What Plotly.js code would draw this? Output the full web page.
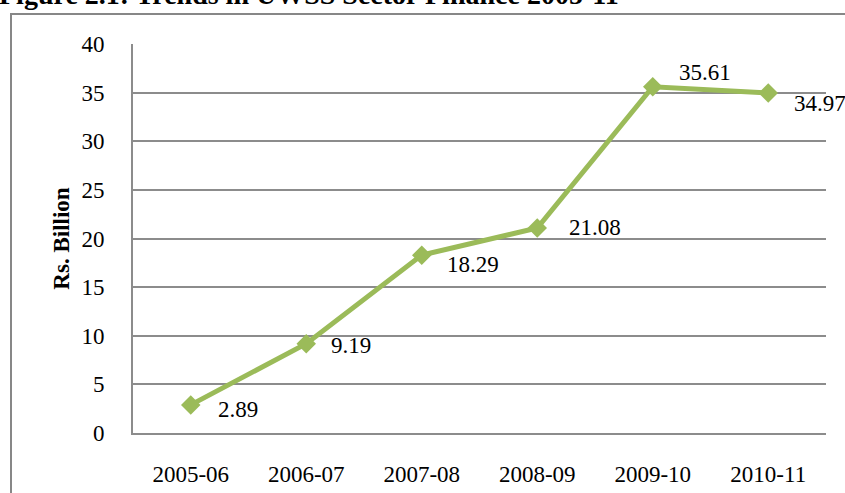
<!DOCTYPE html>
<html>
<head>
<meta charset="utf-8">
<script src="https://cdn.plot.ly/plotly-3.0.1.min.js"></script>
<style>html,body{margin:0;padding:0;background:#fff;}#chart{width:845px;height:493px;}</style>
</head>
<body>
<div id="chart"></div>
<script>
var categories = ["2005-06", "2006-07", "2007-08", "2008-09", "2009-10", "2010-11"];
var values = [2.89, 9.19, 18.29, 21.08, 35.61, 34.97];
var labels = ["2.89", "9.19", "18.29", "21.08", "35.61", "34.97"];
var yTicks = [0, 5, 10, 15, 20, 25, 30, 35, 40];

// label offsets (pixels) relative to each point
var labelDx = [25, 23, 23, 30, 24, 24];
var labelDy = [-5, -2, -9, 1, 14, -11];

var W = 845, H = 493;
var mL = 133, mR = 19, mT = 44, mB = 60;
var pw = W - mL - mR, ph = H - mT - mB;
function px2x(p) { return (p - mL) / pw; }
function py2y(p) { return 1 + (mT - p) / ph; }

var serif = "Liberation Serif, Times New Roman, serif";
var gridC = "#8c8c8c";

var annotations = categories.map(function (c, i) {
  return {
    x: c, y: values[i], xref: "x", yref: "y",
    text: labels[i], showarrow: false,
    xanchor: "left", yanchor: "middle",
    xshift: labelDx[i], yshift: labelDy[i],
    font: {family: serif, size: 23, color: "#000"}
  };
});
annotations.push({
  xref: "paper", yref: "paper",
  x: px2x(-3), y: py2y(-5),
  xanchor: "left", yanchor: "middle",
  text: "<b>Figure 2.1: Trends in UWSS Sector Finance 2005-11</b>",
  showarrow: false,
  font: {family: serif, size: 28, color: "#000"}
});

var trace = {
  x: categories, y: values,
  type: "scatter", mode: "lines+markers",
  line: {color: "#9bbb59", width: 5},
  marker: {symbol: "diamond", size: 15, color: "#9bbb59"},
  cliponaxis: false,
  hoverinfo: "skip"
};

var layout = {
  width: W, height: H,
  margin: {l: mL, r: mR, t: mT, b: mB, pad: 0},
  paper_bgcolor: "#fff", plot_bgcolor: "#fff",
  showlegend: false,
  font: {family: serif, size: 23, color: "#000"},
  xaxis: {
    type: "category", range: [-0.5, 5.5],
    showgrid: false, zeroline: false,
    showline: true, linecolor: gridC, linewidth: 2,
    ticks: "", tickfont: {family: serif, size: 23, color: "#000"},
    ticklabelstandoff: 19, automargin: false, fixedrange: true
  },
  yaxis: {
    range: [0, 40], tickvals: yTicks, ticktext: yTicks.map(String),
    showgrid: true, gridcolor: gridC, gridwidth: 2,
    zeroline: false, showline: true, linecolor: gridC, linewidth: 2,
    ticks: "", tickfont: {family: serif, size: 23, color: "#000"},
    ticklabelstandoff: 22,
    title: {text: "<b>Rs. Billion</b>", font: {family: serif, size: 23, color: "#000"}, standoff: 5},
    automargin: false, fixedrange: true
  },
  shapes: [{
    type: "rect", xref: "paper", yref: "paper",
    x0: px2x(11), x1: px2x(900), y0: py2y(560), y1: py2y(14),
    line: {color: "#878787", width: 2}, fillcolor: "rgba(0,0,0,0)", layer: "below"
  }],
  annotations: annotations
};

Plotly.newPlot("chart", [trace], layout, {displayModeBar: false, staticPlot: true});
</script>
</body>
</html>
